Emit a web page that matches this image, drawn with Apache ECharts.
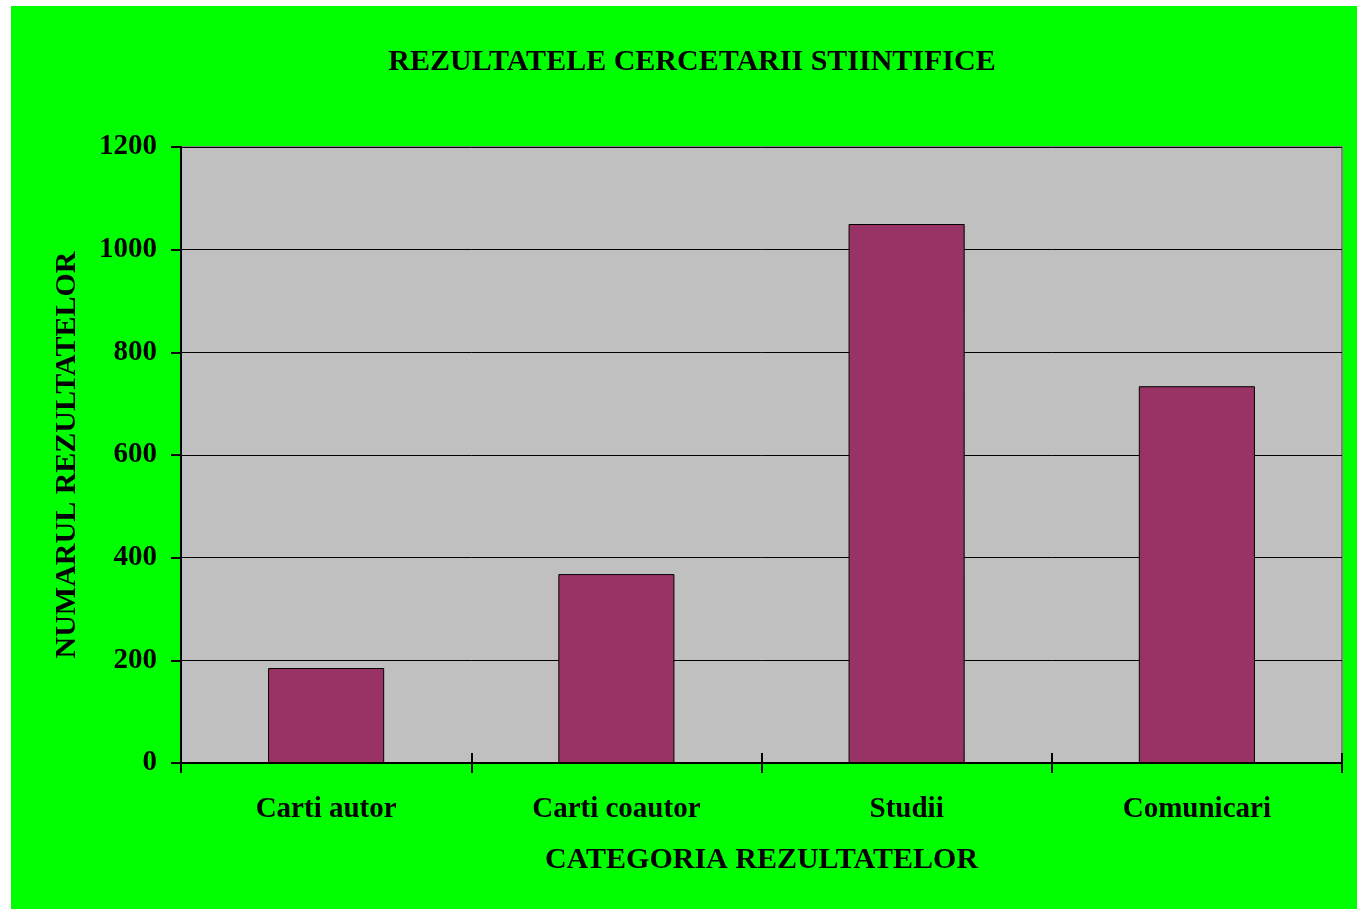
<!DOCTYPE html>
<html>
<head>
<meta charset="utf-8">
<script src="https://cdn.jsdelivr.net/npm/echarts@6/dist/echarts.min.js"></script>
<style>
  html, body { margin: 0; padding: 0; background: #ffffff; width: 1357px; height: 909px; overflow: hidden; }
  #chart { position: absolute; left: 11px; top: 6px; width: 1346px; height: 903px; background: #00FF00; }
</style>
</head>
<body>
<div id="chart"></div>
<script>
const titleText = 'REZULTATELE CERCETARII STIINTIFICE';
const xAxisName = 'CATEGORIA REZULTATELOR';
const yAxisName = 'NUMARUL REZULTATELOR';
const categories = ['Carti autor', 'Carti coautor', 'Studii', 'Comunicari'];
const values = [185, 368, 1050, 734];
const yTicks = [0, 200, 400, 600, 800, 1000, 1200];

const FONT = '"Liberation Serif", "Times New Roman", serif';
const chart = echarts.init(document.getElementById('chart'));
chart.setOption({
  animation: false,
  backgroundColor: 'transparent',
  title: {
    text: titleText,
    left: 676,
    top: 36,
    textAlign: 'center',
    textStyle: { fontFamily: FONT, fontWeight: 'bold', fontSize: 30, color: '#000' }
  },
  grid: {
    left: 170, top: 141, right: 15, bottom: 146,
    show: true, backgroundColor: '#C0C0C0', borderColor: '#808080', borderWidth: 2
  },
  xAxis: [{
    type: 'category',
    data: categories,
    position: 'bottom',
    name: xAxisName,
    nameLocation: 'middle',
    nameGap: 82,
    nameTextStyle: { fontFamily: FONT, fontWeight: 'bold', fontSize: 30, color: '#000' },
    axisLine: { show: true, lineStyle: { color: '#000', width: 2 } },
    axisTick: { show: true, inside: false, length: 10, lineStyle: { color: '#000', width: 2 } },
    axisLabel: { margin: 32, fontFamily: FONT, fontWeight: 'bold', fontSize: 29, color: '#000' },
    splitLine: { show: false }
  }, {
    type: 'category',
    data: categories,
    position: 'bottom',
    axisLine: { show: false },
    axisTick: { show: true, inside: true, length: 10, lineStyle: { color: '#000', width: 2 } },
    axisLabel: { show: false },
    splitLine: { show: false }
  }],
  yAxis: {
    type: 'value',
    min: yTicks[0],
    max: yTicks[yTicks.length - 1],
    interval: 200,
    name: yAxisName,
    nameLocation: 'middle',
    nameGap: 99,
    nameRotate: 90,
    nameTextStyle: { fontFamily: FONT, fontWeight: 'bold', fontSize: 30, color: '#000' },
    axisLine: { show: true, lineStyle: { color: '#000', width: 2 } },
    axisTick: { show: true, inside: false, length: 10, lineStyle: { color: '#000', width: 2 } },
    axisLabel: {
      margin: 24, fontFamily: FONT, fontWeight: 'bold', fontSize: 29, color: '#000',
      padding: [6, 0, 0, 0],
      formatter: function (v) { return String(v); }
    },
    splitLine: { show: true, lineStyle: { color: '#000', width: 1 } }
  },
  series: [{
    type: 'bar',
    data: values,
    barCategoryGap: '60%',
    itemStyle: { color: '#993366', borderColor: '#000', borderWidth: 1 }
  }]
});
</script>
</body>
</html>
